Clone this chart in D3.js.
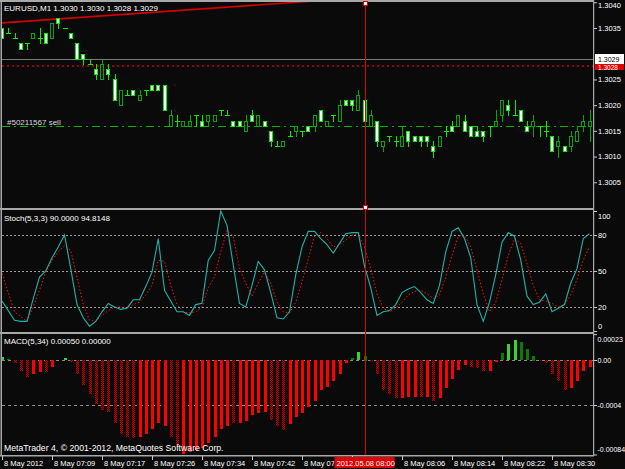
<!DOCTYPE html>
<html>
<head>
<meta charset="utf-8">
<script src="https://cdn.jsdelivr.net/npm/d3@7/dist/d3.min.js"></script>
<style>
  html, body { margin: 0; padding: 0; background: #0a0a0a; }
  svg { display: block; font-family: "Liberation Sans", Arial, sans-serif; }
</style>
</head>
<body>
<svg id="chart" width="625" height="469"></svg>
<script>
// ---- chart values (EURUSD M1) ----
const symbolTitle = "EURUSD,M1  1.3030 1.3030 1.3028 1.3029";
const stochTitle = "Stoch(5,3,3) 90.0000 94.8148";
const macdTitle = "MACD(5,34) 0.00050 0.00000";
const copyright = "MetaTrader 4, \u00a9 2001-2012, MetaQuotes Software Corp.";

const opens = [1.3035,1.3034,1.3033,1.3032,1.3032,1.3033,1.3033,1.3034,1.3033,1.3037,
  1.3035,1.3034,1.3032,1.3030,1.3028,1.3027,1.3025,1.3027,1.3025,1.3020,
  1.3022,1.3023,1.3021,1.3023,1.3024,1.3024,1.3024,1.3016,1.3017,1.3016,
  1.3016,1.3018,1.3017,1.3017,1.3017,1.3019,1.3018,1.3017,1.3017,1.3015,
  1.3018,1.3016,1.3017,1.3015,1.3012,1.3012,1.3014,1.3015,1.3015,1.3016,
  1.3016,1.3019,1.3016,1.3018,1.3017,1.3021,1.3021,1.3019,1.3021,1.3016,
  1.3017,1.3012,1.3014,1.3013,1.3012,1.3015,1.3014,1.3014,1.3014,1.3012,
  1.3012,1.3015,1.3016,1.3016,1.3017,1.3016,1.3015,1.3015,1.3016,1.3016,
  1.3018,1.3020,1.3018,1.3019,1.3016,1.3016,1.3016,1.3015,1.3014,1.3012,
  1.3012,1.3012,1.3013,1.3016,1.3016];
const highs = [1.3035,1.3035,1.3034,1.3032,1.3032,1.3034,1.3035,1.3034,1.3036,1.3037,
  1.3035,1.3034,1.3032,1.3030,1.3029,1.3028,1.3029,1.3028,1.3026,1.3023,
  1.3023,1.3023,1.3023,1.3023,1.3024,1.3024,1.3024,1.3019,1.3018,1.3017,
  1.3018,1.3018,1.3018,1.3018,1.3018,1.3019,1.3019,1.3017,1.3017,1.3018,
  1.3019,1.3018,1.3017,1.3015,1.3013,1.3013,1.3015,1.3016,1.3015,1.3016,
  1.3018,1.3019,1.3017,1.3018,1.3021,1.3021,1.3021,1.3023,1.3021,1.3019,
  1.3017,1.3013,1.3014,1.3014,1.3016,1.3015,1.3014,1.3014,1.3014,1.3013,
  1.3014,1.3016,1.3017,1.3018,1.3018,1.3016,1.3016,1.3015,1.3016,1.3019,
  1.3021,1.3021,1.3021,1.3019,1.3017,1.3018,1.3016,1.3017,1.3014,1.3014,
  1.3012,1.3015,1.3016,1.3018,1.3019];
const lows = [1.3033,1.3034,1.3033,1.3031,1.3031,1.3033,1.3032,1.3032,1.3033,1.3035,
  1.3035,1.3033,1.3029,1.3028,1.3028,1.3025,1.3025,1.3025,1.3021,1.3020,
  1.3022,1.3022,1.3021,1.3022,1.3023,1.3023,1.3019,1.3016,1.3016,1.3016,
  1.3016,1.3016,1.3016,1.3016,1.3017,1.3018,1.3018,1.3016,1.3016,1.3015,
  1.3017,1.3016,1.3016,1.3012,1.3012,1.3012,1.3014,1.3014,1.3014,1.3015,
  1.3015,1.3017,1.3016,1.3017,1.3017,1.3020,1.3019,1.3019,1.3017,1.3016,
  1.3012,1.3011,1.3013,1.3012,1.3012,1.3012,1.3013,1.3012,1.3012,1.3010,
  1.3012,1.3014,1.3015,1.3016,1.3015,1.3014,1.3014,1.3013,1.3014,1.3016,
  1.3017,1.3018,1.3018,1.3017,1.3015,1.3014,1.3014,1.3014,1.3011,1.3010,
  1.3011,1.3011,1.3013,1.3015,1.3013];
const closes = [1.3033,1.3034,1.3033,1.3031,1.3032,1.3034,1.3033,1.3032,1.3036,1.3036,
  1.3035,1.3033,1.3029,1.3029,1.3028,1.3026,1.3028,1.3026,1.3021,1.3023,
  1.3022,1.3022,1.3022,1.3023,1.3023,1.3023,1.3019,1.3018,1.3017,1.3017,
  1.3017,1.3018,1.3016,1.3018,1.3018,1.3019,1.3018,1.3016,1.3016,1.3017,
  1.3017,1.3018,1.3016,1.3013,1.3012,1.3013,1.3014,1.3016,1.3015,1.3015,
  1.3018,1.3017,1.3017,1.3018,1.3020,1.3020,1.3020,1.3022,1.3017,1.3018,
  1.3013,1.3013,1.3014,1.3013,1.3014,1.3013,1.3013,1.3013,1.3013,1.3011,
  1.3014,1.3015,1.3015,1.3018,1.3015,1.3014,1.3014,1.3014,1.3016,1.3017,
  1.3021,1.3019,1.3018,1.3017,1.3015,1.3017,1.3016,1.3015,1.3011,1.3013,
  1.3011,1.3014,1.3015,1.3017,1.3017];

const stochMain = [25,17,9,8,8,27,45,50,61,70,80,52,22,11,4,8,16,23,20,18,
  19,26,26,37,49,77,34,25,16,16,13,22,23,59,67,100,88,55,23,20,
  38,58,51,32,11,10,16,47,70,83,83,77,72,65,73,81,82,82,54,36,
  13,16,17,22,32,35,37,32,26,23,38,66,83,86,77,61,22,8,24,47,
  74,82,79,59,29,22,24,31,16,19,22,40,52,77,81];
const stochSignal = [48,32,16,12,8,20,34,49,59,66,71,67,45,22,9,8,13,17,20,20,
  19,22,24,30,38,59,58,38,22,16,15,16,20,36,45,66,84,79,52,40,
  29,40,49,40,24,16,15,24,41,60,79,82,77,70,72,76,80,81,70,52,
  31,19,16,19,24,30,33,34,31,27,30,45,63,79,80,70,51,31,16,24,
  43,63,77,73,56,38,26,25,23,20,22,30,43,59,70];

const macdHist = [0.00003,0.00001,-0.00003,-0.00010,-0.00015,-0.00012,-0.00011,-0.00011,-0.00006,0,
  0.00002,-0.00002,-0.00012,-0.00022,-0.00030,-0.00039,-0.00044,-0.00046,-0.00056,-0.00066,
  -0.00068,-0.00069,-0.00068,-0.00066,-0.00061,-0.00056,-0.00059,-0.00068,-0.00076,-0.00084,
  -0.00082,-0.00080,-0.00078,-0.00074,-0.00068,-0.00061,-0.00059,-0.00056,-0.00056,-0.00054,
  -0.00049,-0.00047,-0.00046,-0.00053,-0.00059,-0.00062,-0.00057,-0.00051,-0.00047,-0.00042,
  -0.00036,-0.00027,-0.00024,-0.00019,-0.00012,-0.00003,0.00002,0.00007,0.00004,-0.00001,
  -0.00012,-0.00027,-0.00030,-0.00034,-0.00034,-0.00033,-0.00033,-0.00033,-0.00033,-0.00036,
  -0.00034,-0.00025,-0.00017,-0.00009,-0.00004,-0.00006,-0.00007,-0.00010,-0.00010,-0.00002,
  0.00006,0.00014,0.00018,0.00016,0.00010,0.00004,-0.00001,-0.00003,-0.00012,-0.00019,
  -0.00027,-0.00025,-0.00019,-0.00010,-0.00006];
// which colour buffer each histogram bar sits in: 1 = bright, 0 = dark
const macdBright = [1,0,0,0,0,1,1,0,1,0, 1,0,0,0,0,0,0,0,0,0,
  0,0,1,1,1,1,1,0,0,1, 1,1,1,1,1,1,1,0,1,1,
  1,1,1,0,0,0,1,1,1,1, 1,1,1,1,1,1,0,1,0,0,
  0,0,0,0,1,1,1,0,1,0, 1,1,1,1,1,0,0,0,1,1,
  0,1,1,0,0,0,0,0,0,0, 0,1,1,1,1];

const priceTicks = [1.3005, 1.3010, 1.3015, 1.3020, 1.3025, 1.3035, 1.3040];
const stochTicks = [0, 20, 50, 80, 100];
const stochLevels = [20, 50, 80];
const macdTicks = [-0.00084, -0.0004, 0, 0.00023];
const macdLevels = [-0.0004, 0];
const timeTickBars = [0, 8, 16, 24, 32, 40, 48, 56, 64, 72, 80, 88];
const timeTickLabels = ["8 May 2012", "8 May 07:09", "8 May 07:17", "8 May 07:26", "8 May 07:34",
  "8 May 07:42", "8 May 07:50", "8 May 07:58", "8 May 08:06", "8 May 08:14", "8 May 08:22", "8 May 08:30"];

const bidPrice = 1.3029;
const bidLabel = "1.3029";
const stopPrice = 1.30277;
const stopLabel = "1.3028";
const orderPrice = 1.3016;
const orderLabel = "#50211567 sell";
const trendLine = [{bar: 0, price: 1.30360}, {bar: 47, price: 1.30400}];
const cursorBar = 58;
const cursorLabel = "2012.05.08 08:00";

// ---- layout ----
const svg = d3.select("#chart");
const plotW = 593;
const mainP = {top: 2, bottom: 208};
const stochP = {top: 210, bottom: 332};
const macdP = {top: 334, bottom: 455};
const frame = "#a8a8a8";

svg.append("rect").attr("width", 625).attr("height", 469).attr("fill", "#0a0a0a");

const x = d3.scaleLinear().domain([0, 94]).range([2, 589.5]);
const yPrice = d3.scaleLinear().domain([1.3005, 1.3040]).range([182.3, 2.3]);
const yStoch = d3.scaleLinear().domain([0, 100]).range([331, 211]);
const yMacd = d3.scaleLinear().domain([-0.0004, 0]).range([405, 360]);

const px = (i) => Math.round(x(i));
const cx = px(cursorBar) + 0.5;
const lblW = 60, lblX = cx - 31;

const defs = svg.append("defs");
[["clipMain", mainP], ["clipStoch", stochP], ["clipMacd", macdP]].forEach(([id, p]) => {
  defs.append("clipPath").attr("id", id)
    .append("rect").attr("x", 2).attr("y", p.top).attr("width", plotW - 2).attr("height", p.bottom - p.top);
});
const timeClip = defs.append("clipPath").attr("id", "clipTime");
timeClip.append("rect").attr("x", 0).attr("y", 0).attr("width", lblX).attr("height", 469);
timeClip.append("rect").attr("x", lblX + lblW).attr("y", 0).attr("width", 625 - lblX - lblW).attr("height", 469);
const pat = defs.append("pattern").attr("id", "darkRed")
  .attr("width", 2).attr("height", 2).attr("patternUnits", "userSpaceOnUse");
pat.append("rect").attr("width", 2).attr("height", 2).attr("fill", "#3c0000");
pat.append("rect").attr("width", 1).attr("height", 1).attr("fill", "#c80000");
pat.append("rect").attr("x", 1).attr("y", 1).attr("width", 1).attr("height", 1).attr("fill", "#c80000");

// ---- main price panel ----
const gMain = svg.append("g").attr("clip-path", "url(#clipMain)").attr("shape-rendering", "crispEdges");

// order line (dash-dot)
gMain.append("line")
  .attr("x1", 2).attr("x2", plotW)
  .attr("y1", Math.round(yPrice(orderPrice)) + 0.5).attr("y2", Math.round(yPrice(orderPrice)) + 0.5)
  .attr("stroke", "#00b400").attr("stroke-dasharray", "8,4,2,4");

// bid line and red dotted level
gMain.append("line")
  .attr("x1", 2).attr("x2", plotW)
  .attr("y1", Math.round(yPrice(bidPrice)) + 0.5).attr("y2", Math.round(yPrice(bidPrice)) + 0.5)
  .attr("stroke", "#7a7a7a");
gMain.append("line")
  .attr("x1", 2).attr("x2", plotW)
  .attr("y1", Math.round(yPrice(stopPrice))).attr("y2", Math.round(yPrice(stopPrice)))
  .attr("stroke", "#a00000").attr("stroke-width", 2).attr("stroke-dasharray", "2,3");

// trend line
const slope = (trendLine[1].price - trendLine[0].price) / (trendLine[1].bar - trendLine[0].bar);
const tAt = (b) => trendLine[0].price + slope * (b - trendLine[0].bar);
gMain.append("line")
  .attr("shape-rendering", "auto")
  .attr("x1", x(-1)).attr("y1", yPrice(tAt(-1)))
  .attr("x2", x(70)).attr("y2", yPrice(tAt(70)))
  .attr("stroke", "#d00000").attr("stroke-width", 1.6);

// candles
const bars = d3.range(opens.length);
const bull = (i) => closes[i] > opens[i];
const cg = gMain.selectAll("g.candle").data(bars).join("g").attr("class", "candle");
cg.append("line")
  .attr("x1", (i) => px(i) + 0.5).attr("x2", (i) => px(i) + 0.5)
  .attr("y1", (i) => Math.round(yPrice(highs[i])))
  .attr("y2", (i) => Math.round(yPrice(lows[i])) + 1)
  .attr("stroke", (i) => bull(i) ? "#00a800" : "#00f000");
cg.filter((i) => opens[i] !== closes[i]).append("rect")
  .attr("x", (i) => px(i) - 1.5)
  .attr("width", 3)
  .attr("y", (i) => Math.round(yPrice(Math.max(opens[i], closes[i]))) + 0.5)
  .attr("height", (i) => Math.round(yPrice(Math.min(opens[i], closes[i]))) - Math.round(yPrice(Math.max(opens[i], closes[i]))))
  .attr("fill", (i) => bull(i) ? "#0a0a0a" : "#ffffff")
  .attr("stroke", (i) => bull(i) ? "#00a800" : "#00f000");
cg.filter((i) => opens[i] === closes[i]).append("line")
  .attr("x1", (i) => px(i) - 2).attr("x2", (i) => px(i) + 3)
  .attr("y1", (i) => Math.round(yPrice(opens[i])) + 0.5)
  .attr("y2", (i) => Math.round(yPrice(opens[i])) + 0.5)
  .attr("stroke", "#00f000");

svg.append("text").attr("x", 7).attr("y", 124.5)
  .attr("fill", "#d8d8d8").style("font-size", "8px").text(orderLabel);

// ---- stochastic panel ----
const gSt = svg.append("g").attr("clip-path", "url(#clipStoch)");
gSt.selectAll("line.lvl").data(stochLevels).join("line").attr("class", "lvl")
  .attr("x1", 2).attr("x2", plotW)
  .attr("y1", (d) => Math.round(yStoch(d)) + 0.5).attr("y2", (d) => Math.round(yStoch(d)) + 0.5)
  .attr("stroke", "#9a9a9a").attr("stroke-dasharray", "2,2");
const stLine = d3.line().x((d, i) => x(i)).y((d) => yStoch(d));
gSt.append("path").datum(stochSignal).attr("d", stLine)
  .attr("fill", "none").attr("stroke", "#ff1010").attr("stroke-dasharray", "1.5,2");
gSt.append("path").datum(stochMain).attr("d", stLine)
  .attr("fill", "none").attr("stroke", "#20b2aa").attr("stroke-width", 1.1);

// ---- MACD panel ----
const gM = svg.append("g").attr("clip-path", "url(#clipMacd)").attr("shape-rendering", "crispEdges");
gM.selectAll("line.lvl").data(macdLevels).join("line").attr("class", "lvl")
  .attr("x1", 2).attr("x2", plotW)
  .attr("y1", (d) => Math.round(yMacd(d)) + 0.5).attr("y2", (d) => Math.round(yMacd(d)) + 0.5)
  .attr("stroke", "#8a8a8a").attr("stroke-dasharray", "3,3");
const macdFill = (i) => {
  const v = macdHist[i];
  if (v >= 0) return macdBright[i] ? "#33d433" : "#0b7a0b";
  return macdBright[i] ? "#ff0000" : "url(#darkRed)";
};
gM.selectAll("rect.h").data(bars.filter((i) => macdHist[i] !== 0)).join("rect").attr("class", "h")
  .attr("x", (i) => px(i) - 1).attr("width", 3)
  .attr("y", (i) => Math.round(Math.min(yMacd(0), yMacd(macdHist[i]))))
  .attr("height", (i) => Math.max(1, Math.round(Math.abs(yMacd(macdHist[i]) - yMacd(0)))))
  .attr("fill", macdFill);

// ---- text overlays ----
const txt = (s, xx, yy, size, fill) => svg.append("text").attr("x", xx).attr("y", yy)
  .attr("fill", fill || "#ffffff").style("font-size", size).text(s);
txt(symbolTitle, 4, 10.5, "8px");
txt(stochTitle, 4, 221, "8px");
txt(macdTitle, 4, 344, "8px");
txt(copyright, 4, 451, "8.7px");

// ---- frames ----
svg.append("rect").attr("x", 0).attr("y", 0).attr("width", plotW).attr("height", 2).attr("fill", frame);
svg.append("rect").attr("x", 0).attr("y", mainP.bottom).attr("width", plotW).attr("height", 2).attr("fill", frame);
svg.append("rect").attr("x", 0).attr("y", stochP.bottom).attr("width", plotW).attr("height", 2).attr("fill", frame);
svg.append("rect").attr("x", 0).attr("y", macdP.bottom).attr("width", plotW + 1).attr("height", 1.5).attr("fill", frame);
svg.append("rect").attr("x", 0.5).attr("y", 0).attr("width", 1.5).attr("height", macdP.bottom).attr("fill", frame);
svg.append("rect").attr("x", plotW).attr("y", 0).attr("width", 1.2).attr("height", macdP.bottom + 1).attr("fill", frame);

// ---- right axes ----
function styleAxis(g, size) {
  g.select(".domain").remove();
  g.selectAll(".tick line").attr("stroke", "#c8c8c8");
  g.selectAll(".tick text").attr("fill", "#ffffff").attr("x", 4).style("font-size", size || "7.5px")
    .style("font-family", "'Liberation Sans', Arial, sans-serif");
}
const gPA = svg.append("g").attr("transform", `translate(${plotW + 1},0)`)
  .call(d3.axisRight(yPrice).tickValues(priceTicks).tickSize(3).tickFormat(d3.format(".4f")));
styleAxis(gPA);
gPA.selectAll(".tick text").attr("dy", (d) => d === 1.3040 ? "0.75em" : "0.32em");

const gSA = svg.append("g").attr("transform", `translate(${plotW + 1},0)`)
  .call(d3.axisRight(yStoch).tickValues(stochTicks).tickSize(3).tickFormat(d3.format("d")));
styleAxis(gSA);
gSA.selectAll(".tick text").attr("dy", (d) => d === 100 ? "1.0em" : d === 0 ? "-0.4em" : "0.32em");

const gMA = svg.append("g").attr("transform", `translate(${plotW + 1},0)`)
  .call(d3.axisRight(yMacd).tickValues(macdTicks).tickSize(3).tickFormat((d) => d === 0 ? "0.00" : String(d)));
styleAxis(gMA, "7px");
gMA.selectAll(".tick text").attr("x", 3.5)
  .attr("dy", (d) => d === 0.00023 ? "1.0em" : d === -0.00084 ? "-0.45em" : "0.32em");

// bid and level boxes on the price scale
const bidY = Math.round(yPrice(bidPrice));
const stopY = Math.round(yPrice(stopPrice));
svg.append("rect").attr("x", plotW + 2).attr("y", bidY + 4).attr("width", 29).attr("height", stopY + 4 - (bidY + 4)).attr("fill", "#e00000");
txt(stopLabel, plotW + 5, stopY + 3.5, "6.5px", "#ffffff");
svg.append("rect").attr("x", plotW + 2).attr("y", bidY - 5).attr("width", 29).attr("height", 10).attr("fill", "#ffffff");
txt(bidLabel, plotW + 5, bidY + 2.5, "7px", "#000000");

// ---- time axis ----
const gT = svg.append("g").attr("transform", `translate(0,${macdP.bottom + 1})`);
gT.selectAll("line").data(timeTickBars).join("line")
  .attr("x1", (b) => px(b) + 0.5).attr("x2", (b) => px(b) + 0.5)
  .attr("y1", 0).attr("y2", 4).attr("stroke", "#c8c8c8");
// labels whose start falls under the cursor time box are hidden by it
const shownTicks = timeTickBars.map((b, k) => ({b, k}))
  .filter((t) => px(t.b) + 2 < lblX || px(t.b) + 2 > lblX + lblW);
svg.append("g").attr("clip-path", "url(#clipTime)")
  .selectAll("text").data(shownTicks).join("text")
  .attr("x", (t) => px(t.b) + 2).attr("y", macdP.bottom + 11)
  .attr("fill", "#ffffff").style("font-size", "7.5px")
  .text((t) => timeTickLabels[t.k]);

// ---- crosshair at cursor bar ----
svg.append("line").attr("x1", cx).attr("x2", cx).attr("y1", 2).attr("y2", macdP.bottom)
  .attr("stroke", "#e00000").attr("shape-rendering", "crispEdges");
[3, mainP.bottom - 1].forEach((yy) => {
  svg.append("rect").attr("x", cx - 2).attr("y", yy - 1.5).attr("width", 4).attr("height", 4)
    .attr("fill", "#ffffff").attr("stroke", "#e00000");
});
svg.append("rect").attr("x", lblX).attr("y", macdP.bottom + 2).attr("width", lblW).attr("height", 11).attr("fill", "#e00000");
txt(cursorLabel, lblX + 2, macdP.bottom + 10.5, "7.5px", "#ffffff");
</script>
</body>
</html>
